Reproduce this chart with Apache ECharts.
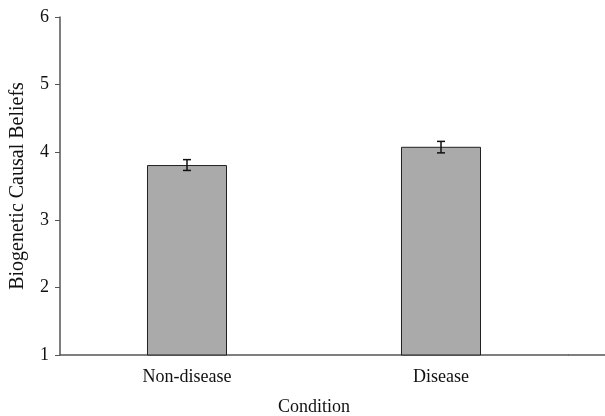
<!DOCTYPE html>
<html>
<head>
<meta charset="utf-8">
<script src="https://cdn.jsdelivr.net/npm/echarts@6/dist/echarts.min.js"></script>
<style>
  html, body { margin: 0; padding: 0; background: #fff; }
  #chart { width: 605px; height: 416px; }
</style>
</head>
<body>
<div id="chart"></div>
<script>
// condition categories
const categories = ['Non-disease', 'Disease'];
// mean biogenetic causal beliefs
const means = [3.81, 4.08];
// error bar ends (mean +/- SE)
const errLow = [3.73, 3.99];
const errHigh = [3.89, 4.16];
const yTicks = [1, 2, 3, 4, 5, 6];

const font = '"Liberation Serif", "Times New Roman", serif';
const chart = echarts.init(document.getElementById('chart'), null, { renderer: 'canvas' });

const option = {
  animation: false,
  backgroundColor: '#fff',
  grid: { left: 60, right: 37, top: 17, bottom: 61, outerBoundsMode: 'none', containLabel: false },
  xAxis: {
    type: 'category',
    data: categories,
    name: 'Condition',
    nameLocation: 'middle',
    nameGap: 43,
    nameTextStyle: { fontFamily: font, fontSize: 18, color: '#111' },
    axisLine: { lineStyle: { color: '#555', width: 1.5 } },
    axisTick: { length: 5, lineStyle: { color: '#555' } },
    axisLabel: { fontFamily: font, fontSize: 18, color: '#111', margin: 13 }
  },
  yAxis: {
    type: 'value',
    min: yTicks[0],
    max: yTicks[yTicks.length - 1],
    interval: 1,
    name: 'Biogenetic Causal Beliefs',
    nameLocation: 'middle',
    nameGap: 32,
    nameTextStyle: { fontFamily: font, fontSize: 20, color: '#111' },
    splitLine: { show: false },
    axisLine: { show: true, lineStyle: { color: '#555', width: 1.5 } },
    axisTick: { show: true, length: 5, lineStyle: { color: '#555' } },
    axisLabel: { fontFamily: font, fontSize: 18, color: '#111', margin: 11 }
  },
  graphic: [
    {
      // axis line runs on past the last band in the original
      type: 'line',
      shape: { x1: 605 - 37, y1: 416 - 61, x2: 605, y2: 416 - 61 },
      style: { stroke: '#555', lineWidth: 1.5 }
    }
  ],
  series: [
    {
      type: 'bar',
      data: means,
      barWidth: '31.5%',
      itemStyle: { color: '#aaaaaa', borderColor: '#222', borderWidth: 1 },
      z: 2
    },
    {
      // error bars
      type: 'custom',
      data: categories.map((c, i) => [i, errLow[i], errHigh[i]]),
      renderItem: (params, api) => {
        const lo = api.coord([api.value(0), api.value(1)]);
        const hi = api.coord([api.value(0), api.value(2)]);
        const w = 4;
        const style = { stroke: '#111', lineWidth: 1.5 };
        return {
          type: 'group',
          children: [
            { type: 'line', shape: { x1: lo[0], y1: lo[1], x2: hi[0], y2: hi[1] }, style },
            { type: 'line', shape: { x1: hi[0] - w, y1: hi[1], x2: hi[0] + w, y2: hi[1] }, style },
            { type: 'line', shape: { x1: lo[0] - w, y1: lo[1], x2: lo[0] + w, y2: lo[1] }, style }
          ]
        };
      },
      z: 3
    }
  ]
};

chart.setOption(option);
</script>
</body>
</html>
